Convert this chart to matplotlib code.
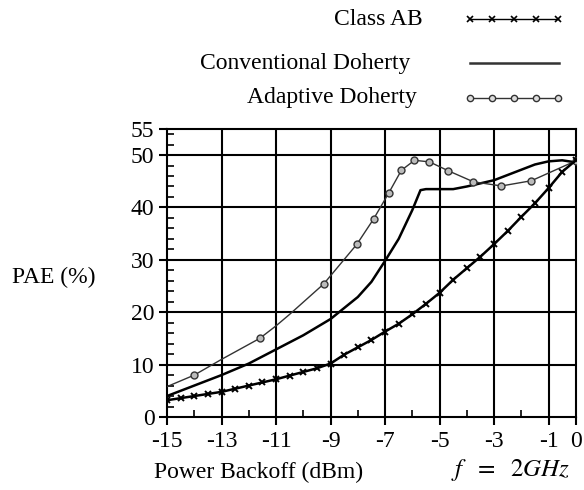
import matplotlib

matplotlib.use("Agg")
import matplotlib.pyplot as plt
import numpy as np

plt.rcParams["font.family"] = ["Liberation Serif", "DejaVu Serif"]

# Class AB, every 0.5 dB
ab_x = [-15, -14.5, -14, -13.5, -13, -12.5, -12, -11.5, -11, -10.5, -10, -9.5, -9, -8.5, -8,
        -7.5, -7, -6.5, -6, -5.5, -5, -4.5, -4, -3.5, -3, -2.5, -2, -1.5, -1, -0.5, 0]
ab_y = [3.2, 3.6, 4.0, 4.4, 4.8, 5.4, 6.0, 6.6, 7.2, 7.9, 8.6, 9.3, 10.2, 11.9, 13.3,
        14.7, 16.3, 17.8, 19.6, 21.6, 23.7, 26.2, 28.4, 30.6, 33.0, 35.5, 38.2, 40.8, 43.7, 46.8, 49.0]

# Conventional Doherty
conv_x = [-15, -14, -13, -12, -11, -10, -9, -8.5, -8, -7.5, -7, -6.5, -6, -5.7, -5.5, -5,
          -4.5, -4, -3.5, -3, -2.5, -2, -1.5, -1, -0.5, 0]
conv_y = [4.0, 6.0, 8.0, 10.2, 12.9, 15.6, 18.7, 20.8, 22.9, 25.8, 29.8, 34.0, 39.5, 43.3, 43.5, 43.5,
          43.5, 44.0, 44.6, 45.2, 46.2, 47.2, 48.2, 48.8, 49.0, 48.6]

# Adaptive Doherty
adp_x = [-15, -14.0, -13, -11.6, -11, -10.5, -9.25, -8.03, -7.42, -6.86, -6.4, -5.92, -5.37,
         -4.68, -3.76, -2.73, -1.63, 0]
adp_y = [5.8, 8.0, 11.0, 15.0, 17.4, 19.6, 25.4, 33.0, 37.8, 42.8, 47.1, 49.0, 48.7,
         47.0, 44.9, 44.1, 45.1, 48.9]
adp_marked = [1, 3, 6, 7, 8, 9, 10, 11, 12, 13, 14, 15, 16, 17]

x_major = [-15, -13, -11, -9, -7, -5, -3, -1, 0]
x_minor = [-14, -12, -10, -8, -6, -4, -2]
y_major = [0, 10, 20, 30, 40, 50, 55]
y_minor = [2, 4, 6, 8, 12, 14, 16, 18, 22, 24, 26, 28, 32, 34, 36, 38, 42, 44, 46, 48, 52, 54]

FS = 17

fig = plt.figure(figsize=(5.84, 4.90), dpi=100)
ax = fig.add_axes([0.286, 0.149, 0.700, 0.588])

for gx in [-13, -11, -9, -7, -5, -3, -1]:
    ax.axvline(gx, color="black", linewidth=1.5, zorder=1)
for gy in [10, 20, 30, 40, 50]:
    ax.axhline(gy, color="black", linewidth=1.5, zorder=1)

ax.plot(conv_x, conv_y, color="black", linewidth=1.8, zorder=3)
ax.plot(adp_x, adp_y, color="#333333", linewidth=1.0, marker="o", markersize=5,
        markerfacecolor="#bbbbbb", markeredgecolor="#333333", markeredgewidth=1.0,
        markevery=adp_marked, zorder=3)
ax.plot(ab_x, ab_y, color="black", linewidth=1.8, marker="x", markersize=5,
        markeredgewidth=1.4, zorder=4)

ax.set_xlim(-15, 0)
ax.set_ylim(0, 55)
ax.set_xticks(x_major, labels=[str(v) for v in x_major])
ax.set_xticks(x_minor, minor=True)
ax.set_yticks(y_major, labels=[str(v) for v in y_major])
ax.set_yticks(y_minor, minor=True)
ax.tick_params(which="major", direction="out", length=6, width=1.5, labelsize=FS)
ax.tick_params(axis="x", which="major", pad=4)
ax.tick_params(axis="y", which="major", pad=3)
ax.tick_params(which="minor", direction="in", length=5, width=1.2)
for s in ax.spines.values():
    s.set_linewidth(1.5)

fig.text(0.0205, 0.433, "PAE (%)", fontsize=FS, ha="left", va="center")
fig.text(0.4435, 0.035, "Power Backoff (dBm)", fontsize=FS, ha="center", va="center")
fig.text(0.772, 0.04, r"$f\ \ =\ \ 2GHz$", fontsize=FS + 1, ha="left", va="center",
         math_fontfamily="stix")

# legend drawn by hand, outside the axes
legend_rows = [("Class AB", 0.961, 0.724), ("Conventional Doherty", 0.871, 0.702),
               ("Adaptive Doherty", 0.800, 0.714)]
lx = np.linspace(0.805, 0.955, 5)
for i, (name, ypos, xr) in enumerate(legend_rows):
    fig.text(xr, ypos, name, fontsize=FS, ha="right", va="center")
    if i == 0:
        fig.add_artist(plt.Line2D(lx, [ypos] * 5, color="black", linewidth=1.0, marker="x",
                                  markersize=4.5, markeredgewidth=1.2))
    elif i == 1:
        fig.add_artist(plt.Line2D([0.805, 0.958], [ypos] * 2, color="#333333", linewidth=1.8))
    else:
        fig.add_artist(plt.Line2D(lx, [ypos] * 5, color="#333333", linewidth=1.0, marker="o",
                                  markersize=4.5, markerfacecolor="#dddddd",
                                  markeredgecolor="#333333"))

fig.savefig("out.png", dpi=100)
plt.close(fig)
